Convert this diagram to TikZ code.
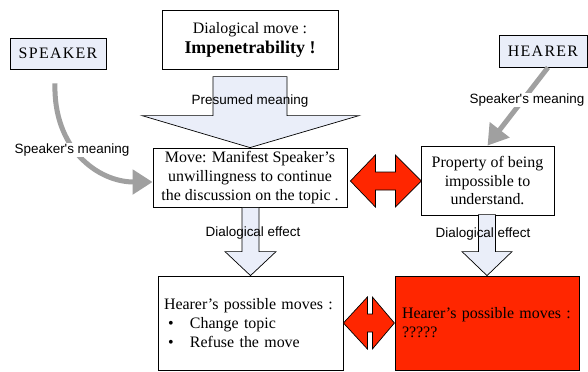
\documentclass[tikz,border=0pt]{standalone}
\usepackage{fontspec}
\setmainfont{Liberation Serif}[BoldFont={Liberation Serif Bold}]
\setsansfont{Liberation Sans}
\newfontfamily\rolefont{Liberation Serif}[LetterSpace=8]
\usetikzlibrary{calc}
\usetikzlibrary{arrows.meta}

\definecolor{paleblue}{RGB}{234,238,249}
\definecolor{arrowgrey}{RGB}{160,160,160}
\definecolor{alertred}{RGB}{255,38,0}

\tikzset{
  box/.style={draw=black, fill=white, line width=0.8bp, inner sep=0pt, align=center,
    font=\fontsize{16}{19}\selectfont},
  rolebox/.style={draw=black, fill=paleblue, line width=0.8bp, inner sep=0pt,
    font=\rolefont\fontsize{16}{18}\selectfont},
  blockarrow/.style={draw=black, fill=paleblue, line width=0.7bp},
  redarrow/.style={draw=black, fill=alertred, line width=0.7bp},
  greyarrow/.style={draw=arrowgrey, line width=5bp,
    -{Triangle[length=20bp,width=24bp]}},
  lbl/.style={font=\sffamily\fontsize{13.5}{16}\selectfont, inner sep=1pt},
}

\begin{document}
\begin{tikzpicture}[x=1bp,y=-1bp]

    \useasboundingbox (0,0) rectangle (588,371);

    % the two speakers
    \node[rolebox, minimum width=96bp, minimum height=31bp] (speaker) at (58,53.5) {SPEAKER};
    \node[rolebox, minimum width=88bp, minimum height=32bp] (hearer) at (543,51) {HEARER};

    % the boxes
    \node[box, minimum width=176bp, minimum height=59bp] (dmove) at (250,39.5)
      {Dialogical move :\\[1bp]{\fontsize{18}{20}\selectfont\bfseries Impenetrability !}};
    \node[box, minimum width=194bp, minimum height=59bp] (move) at (250,177.5)
      {Move: Manifest Speaker’s\\unwillingness to continue\\the discussion on the topic .};
    \node[box, minimum width=133bp, minimum height=69bp] (prop) at (487.5,180.5)
      {Property of being\\impossible to\\understand.};
    \node[box, align=left, text width=173bp, inner xsep=6bp, minimum height=94bp] (hmoves) at (250.5,323)
      {Hearer’s possible moves :\\
       \hspace*{4bp}\makebox[22bp][l]{\textbullet}Change topic\\
       \hspace*{4bp}\makebox[22bp][l]{\textbullet}Refuse the move};
    \node[box, fill=alertred, align=left, text width=170bp, inner xsep=7bp, minimum height=94bp] (redbox) at (487,323)
      {Hearer’s possible moves :\\?????};

    % the block arrows
    \draw[blockarrow] (move.north) -- ++(-108,-32) -- ++(71,0) -- ++(0,-39)
      -- ++(74,0) -- ++(0,39) -- ++(72,0) -- cycle;
    \draw[blockarrow] (hmoves.north) -- ++(-25.5,-24) -- ++(17,0) -- ++(0,-44)
      -- ++(17,0) -- ++(0,44) -- ++(17,0) -- cycle;
    \draw[blockarrow] (redbox.north) -- ++(-25,-24) -- ++(16.5,0) -- ++(0,-37)
      -- ++(17,0) -- ++(0,37) -- ++(16.5,0) -- cycle;

    % the red double arrows
    \draw[redarrow] ($(move.east)+(3,3.5)$) -- ++(25,-26) -- ++(0,17) -- ++(20,0)
      -- ++(0,-17) -- ++(26,26) -- ++(-26,26) -- ++(0,-17) -- ++(-20,0)
      -- ++(0,17) -- cycle;
    \draw[redarrow] (hmoves.east) -- ++(24,-26) -- ++(0,17) -- ++(5,0)
      -- ++(0,-17) -- ++(22,26) -- ++(-22,26) -- ++(0,-17) -- ++(-5,0)
      -- ++(0,17) -- cycle;

    % the grey arrows
    \draw[greyarrow] ($(speaker.south)+(-3,14)$) .. controls +(-2,65) and +(-55,0)
      .. ($(move.west)+(0,4.5)$);
    \draw[greyarrow] ($(hearer.south)+(5,0)$) -- (prop.north);

    % the labels
    \node[lbl] (presumed) at (250,101) {Presumed meaning};
    \node[lbl] (effectl) at (253,233) {Dialogical effect};
    \node[lbl] (effectr) at (483,234) {Dialogical effect};
    \node[lbl, fill=white] (spkmean) at (72,150) {Speaker\textquotesingle s meaning};
    \node[lbl, fill=white] (hrmean) at (527,100) {Speaker\textquotesingle s meaning};

\end{tikzpicture}
\end{document}
